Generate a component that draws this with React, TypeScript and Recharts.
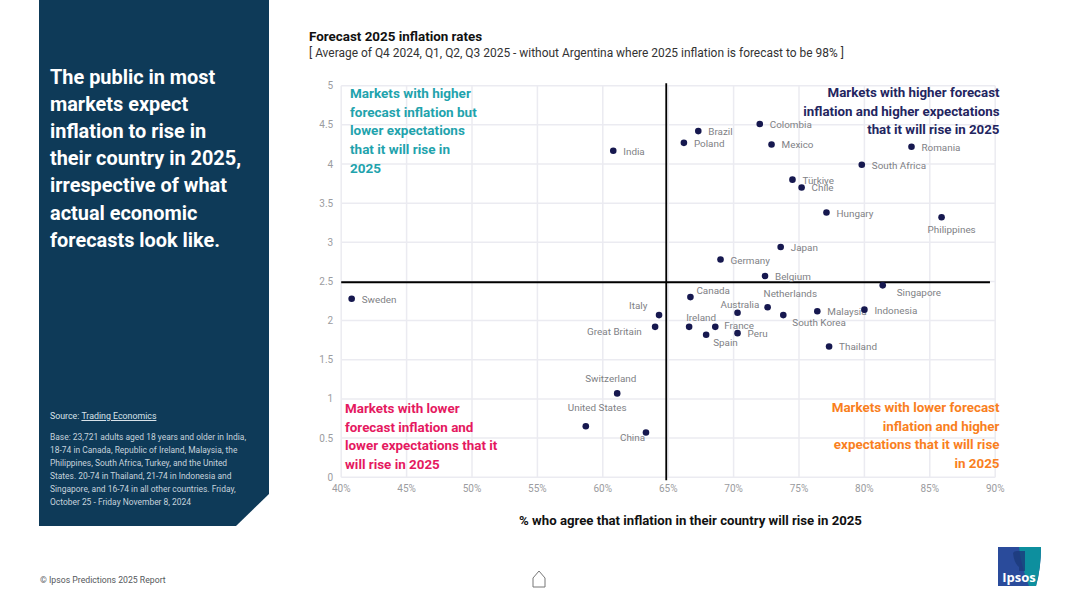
import { ScatterChart, Scatter, XAxis, YAxis, CartesianGrid, ReferenceLine } from 'recharts';

const markets = ['India', 'Brazil', 'Colombia', 'Poland', 'Mexico', 'Romania', 'South Africa', 'Türkiye', 'Chile', 'Hungary', 'Philippines', 'Japan', 'Germany', 'Belgium', 'Singapore', 'Canada', 'Sweden', 'Italy', 'Australia', 'Netherlands', 'South Korea', 'Malaysia', 'Indonesia', 'Great Britain', 'Ireland', 'France', 'Spain', 'Peru', 'Thailand', 'Switzerland', 'United States', 'China'];
const agreePct = [60.8, 67.3, 72, 66.2, 72.9, 83.6, 79.8, 74.5, 75.2, 77.1, 85.9, 73.6, 69, 72.4, 81.4, 66.7, 40.8, 64.3, 70.3, 72.6, 73.8, 76.4, 80, 64, 66.6, 68.6, 67.9, 70.3, 77.3, 61.1, 58.7, 63.3];
const inflation = [4.17, 4.42, 4.51, 4.27, 4.25, 4.22, 3.99, 3.8, 3.7, 3.38, 3.32, 2.94, 2.78, 2.57, 2.45, 2.3, 2.28, 2.07, 2.1, 2.17, 2.07, 2.12, 2.14, 1.92, 1.92, 1.92, 1.82, 1.84, 1.67, 1.07, 0.65, 0.57];
const xTicks = [40, 45, 50, 55, 60, 65, 70, 75, 80, 85, 90];
const yTicks = [0, 0.5, 1, 1.5, 2, 2.5, 3, 3.5, 4, 4.5, 5];

const chartData = markets.map((name, i) => ({ name, x: agreePct[i], y: inflation[i] }));

// label nudges relative to the dot, everything else sits 10px to the right
const labelNudge: Record<string, [number, number]> = {
  Philippines: [-14, 12],
  Singapore: [14, 7],
  Canada: [6, -7],
  Netherlands: [-4, -13.5],
  Australia: [-17, -8],
  'South Korea': [9, 7],
  Italy: [-30, -9.5],
  'Great Britain': [-68, 5],
  Ireland: [-3, -9.5],
  France: [9, -1],
  Spain: [7, 7.5],
  Switzerland: [-32, -14.5],
  'United States': [-18, -18.5],
  China: [-26, 5],
};

const FONT = 'Roboto, sans-serif';

function Dot(props: any) {
  const name = props.payload?.name ?? props.name;
  const [dx, dy] = labelNudge[name] ?? [10, 0.5];
  return (
    <g>
      <circle cx={props.cx} cy={props.cy} r={3.3} fill="#16184f" />
      <text x={props.cx + dx} y={props.cy + dy} dominantBaseline="central" fontSize={9.9} fill="#808185" fontFamily={FONT}>
        {name}
      </text>
    </g>
  );
}

function Block({ x, y, right, color, size, weight, lh, lines }: any) {
  const pos = right !== undefined ? { right: 1080 - right, textAlign: 'right' as const } : { left: x };
  return (
    <div style={{ position: 'absolute', top: y, ...pos, color, fontSize: size, fontWeight: weight, lineHeight: `${lh}px`, whiteSpace: 'nowrap', fontFamily: FONT }}>
      {lines.map((l: string) => (
        <div key={l}>{l}</div>
      ))}
    </div>
  );
}

export default function App() {
  return (
    <div style={{ position: 'absolute', left: 0, top: 0, width: 1080, height: 607, background: '#fff', overflow: 'hidden', fontFamily: FONT }}>
      <div style={{ position: 'absolute', left: 39, top: 0, width: 230, height: 526, background: '#0e3a58', clipPath: 'polygon(0 0, 100% 0, 100% 494px, 197px 100%, 0 100%)' }} />
      <Block x={50} y={63.5} color="#fff" size={19.9} weight={700} lh={27.2} lines={['The public in most', 'markets expect', 'inflation to rise in', 'their country in 2025,', 'irrespective of what', 'actual economic', 'forecasts look like.']} />
      <div style={{ position: 'absolute', left: 50, top: 410.5, color: '#d8e2e9', fontSize: 8.8, whiteSpace: 'nowrap' }}>
        Source: <span style={{ textDecoration: 'underline' }}>Trading Economics</span>
      </div>
      <Block x={50} y={431} color="#c6d3dc" size={8.45} weight={400} lh={13} lines={['Base: 23,721 adults aged 18 years and older in India,', '18-74 in Canada, Republic of Ireland, Malaysia, the', 'Philippines, South Africa, Turkey, and the United', 'States. 20-74 in Thailand, 21-74 in Indonesia and', 'Singapore, and 16-74 in all other countries. Friday,', 'October 25 - Friday November 8, 2024']} />
      <Block x={40} y={574} color="#55585c" size={8.7} weight={400} lh={12} lines={['© Ipsos Predictions 2025 Report']} />

      <Block x={309} y={29} color="#111" size={13.4} weight={700} lh={16} lines={['Forecast 2025 inflation rates']} />
      <Block x={309} y={45} color="#333" size={11.95} weight={400} lh={16} lines={['[ Average of Q4 2024, Q1, Q2, Q3 2025 - without Argentina where 2025 inflation is forecast to be 98% ]']} />

      <div style={{ position: 'absolute', left: 0, top: 0 }}>
        <ScatterChart width={1080} height={607} margin={{ top: 85.7, left: 311.2, right: 84.8, bottom: 99.8 }}>
          <CartesianGrid stroke="#ebebf1" strokeWidth={1.5} horizontalValues={yTicks} verticalValues={xTicks} />
          <XAxis
            type="number"
            dataKey="x"
            domain={[40, 90]}
            ticks={xTicks}
            tickFormatter={(v) => `${v}%`}
            axisLine={false}
            tickLine={false}
            height={30}
            tick={{ fontSize: 10, fill: '#9b9ca0', fontFamily: FONT }}
            interval={0}
          />
          <YAxis
            type="number"
            dataKey="y"
            domain={[0, 5]}
            ticks={yTicks}
            axisLine={false}
            tickLine={false}
            width={30}
            tick={{ fontSize: 10, fill: '#9b9ca0', fontFamily: FONT }}
            interval={0}
          />
          <ReferenceLine segment={[{ x: 64.85, y: -0.04 }, { x: 64.85, y: 5.03 }]} stroke="#000" strokeWidth={1.8} ifOverflow="visible" />
          <ReferenceLine segment={[{ x: 40, y: 2.49 }, { x: 89.6, y: 2.49 }]} stroke="#000" strokeWidth={1.8} ifOverflow="visible" />
          <Scatter data={chartData} isAnimationActive={false} shape={Dot} />
        </ScatterChart>
      </div>

      <Block x={350} y={84} color="#1fa3ad" size={13.5} weight={700} lh={18.7} lines={['Markets with higher', 'forecast inflation but', 'lower expectations', 'that it will rise in', '2025']} />
      <Block right={999.5} y={84} color="#23255f" size={13.3} weight={700} lh={18.7} lines={['Markets with higher forecast', 'inflation and higher expectations', 'that it will rise in 2025']} />
      <Block x={345} y={400} color="#e5195f" size={13.4} weight={700} lh={18.7} lines={['Markets with lower', 'forecast inflation and', 'lower expectations that it', 'will rise in 2025']} />
      <Block right={999.5} y={399} color="#f97f1e" size={13.4} weight={700} lh={18.7} lines={['Markets with lower forecast', 'inflation and higher', 'expectations that it will rise', 'in 2025']} />

      <div style={{ position: 'absolute', left: 690.5, top: 513, transform: 'translateX(-50%)', fontSize: 13.2, fontWeight: 700, color: '#111', whiteSpace: 'nowrap', lineHeight: '16px' }}>
        % who agree that inflation in their country will rise in 2025
      </div>

      <svg style={{ position: 'absolute', left: 532, top: 570 }} width={15} height={19}>
        <path d="M1 8 L7 1 L13 8 V17 H1 Z" fill="none" stroke="#777" strokeWidth={1} />
      </svg>
      <svg style={{ position: 'absolute', left: 997, top: 546 }} width={45} height={41}>
        <path d="M1 1 H44 Q44 22 39 40 H1 Z" fill="#2a4b9b" />
        <path d="M22 1 H44 Q44 22 39 40 H32 Q24 20 22 1 Z" fill="#0d8f9e" />
        <path d="M16 7 Q17 17 22 21 V25 H28 V5 H20 Q17 5 16 7 Z" fill="#1b3a7a" opacity={0.8} />
        <text x={22} y={36} textAnchor="middle" fontSize={13} fontWeight={700} fill="#fff" fontFamily="Open Sans, sans-serif">Ipsos</text>
      </svg>
    </div>
  );
}
